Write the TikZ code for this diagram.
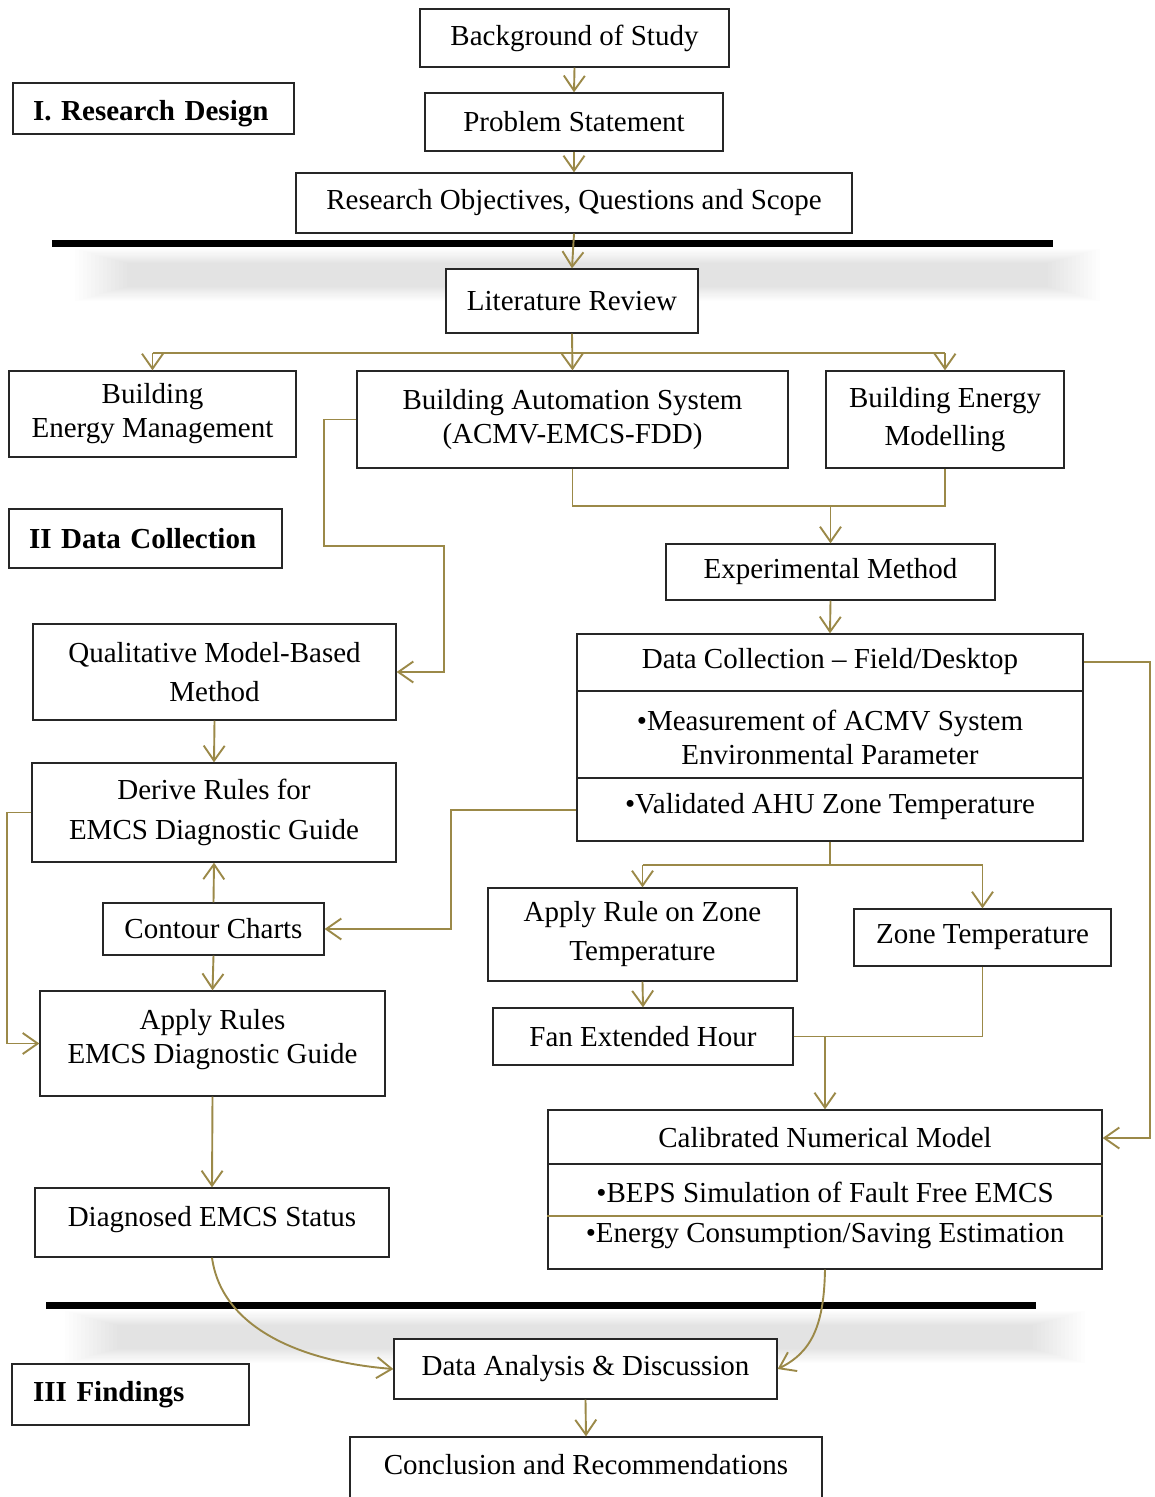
\documentclass[tikz,border=0pt]{standalone}
\usepackage{fontspec}
\setmainfont{Liberation Serif}
\usetikzlibrary{arrows.meta}
\definecolor{olv}{RGB}{155,137,72}
\tikzset{
  every node/.style={font=\fontsize{29}{34}\selectfont},
  box/.style={draw=black!85, line width=1.3pt, fill=white, inner sep=0pt, align=center},
  head/.style={box, font=\fontsize{29}{34}\selectfont\bfseries, align=left, inner xsep=20pt},
  txt/.style={inner sep=0pt, align=center},
  con/.style={draw=olv, line width=1.9pt},
  arr/.style={con, -{Straight Barb[length=15pt,width=21pt,line width=1.9pt]}},
  divb/.style={draw=black!85, line width=1.3pt},
  divo/.style={draw=olv, line width=1.9pt},
  bandstep/.style={fill=black, fill opacity=0.0075, draw=none}
}
\begin{document}
\begin{tikzpicture}[x=1pt,y=-1pt]
\useasboundingbox (0,0) rectangle (1155,1497);
% shadow bands (blurred)
\foreach \i in {0,...,13}{
  \fill[bandstep] (75+\i*4,249+\i*1.1) rectangle (1100-\i*4,301-\i*1.1);
  \fill[bandstep] (65+\i*4,1311+\i*1.1) rectangle (1085-\i*4,1363-\i*1.1);
}
% thick bars
\fill[black] (52,240) rectangle (1053,247);
\fill[black] (46,1302) rectangle (1036,1309);
% helper coordinates
\coordinate (hb) at (0,353);
\coordinate (h2) at (0,506);
\coordinate (h3) at (0,865);
\coordinate (y691) at (0,691);
\coordinate (y778) at (0,778);
\coordinate (y810) at (0,810);
\coordinate (y1164) at (0,1164);
\coordinate (y1216) at (0,1216);
\coordinate (p1) at (324,546);
\coordinate (p2) at (444,546);
\coordinate (p3) at (451,810);
\coordinate (p4) at (1150,662);
% heading boxes
\node[head, minimum width=281pt, minimum height=51pt, text width=241pt, text height=30pt, text depth=6pt] (rd) at (153.5,108.5) {I. Research Design};
\node[head, minimum width=273pt, minimum height=59pt, text width=233pt, inner xsep=18pt] (dcol) at (145.5,538.5) {II Data Collection};
\node[head, minimum width=237pt, minimum height=61pt, text width=195pt, inner xsep=21pt] (fd) at (130.5,1394.5) {III Findings};
% main boxes
\node[box, minimum width=309pt, minimum height=58pt] (bg) at (574.5,38) {Background of Study};
\node[box, minimum width=298pt, minimum height=58pt] (ps) at (574,122) {Problem Statement};
\node[box, minimum width=556pt, minimum height=60pt] (ro) at (574,203) {Research Objectives, Questions and Scope};
\node[box, minimum width=252pt, minimum height=64pt] (lr) at (572,301) {Literature Review};
\node[box, minimum width=287pt, minimum height=86pt] (bem) at (152.5,414) {Building\\Energy Management};
\node[box, minimum width=431pt, minimum height=97pt] (bas) at (572.5,419.5) {Building Automation System\\(ACMV-EMCS-FDD)};
\node[box, minimum width=238pt, minimum height=97pt] (bemod) at (945,419.5) {Building Energy\\[4pt]Modelling};
\node[box, minimum width=329pt, minimum height=56pt] (em) at (830.5,572) {Experimental Method};
\node[box, minimum width=506pt, minimum height=207pt] (dc) at (830,737.5) {};
\node[txt] (dct1) at (830,662) {Data Collection -- Field/Desktop};
\node[txt] (dct2) at (830,737) {•Measurement of ACMV System\\Environmental Parameter};
\node[txt] (dct3) at (830,807) {•Validated AHU Zone Temperature};
\node[box, minimum width=363pt, minimum height=96pt] (qm) at (214.5,672) {Qualitative Model-Based\\[5pt]Method};
\node[box, minimum width=364pt, minimum height=99pt] (dr) at (214,812.5) {Derive Rules for\\[6pt]EMCS Diagnostic Guide};
\node[box, minimum width=221pt, minimum height=52pt] (cc) at (213.5,929) {Contour Charts};
\node[box, minimum width=345pt, minimum height=105pt] (ar) at (212.5,1043.5) {Apply Rules\\EMCS Diagnostic Guide\\[-20pt]\mbox{}};
\node[box, minimum width=354pt, minimum height=69pt] (ds) at (212,1222.5) {Diagnosed EMCS Status\\[-22pt]\mbox{}};
\node[box, minimum width=309pt, minimum height=93pt] (arz) at (642.5,934.5) {Apply Rule on Zone\\[5pt]Temperature};
\node[box, minimum width=257pt, minimum height=57pt] (zt) at (982.5,937.5) {Zone Temperature};
\node[box, minimum width=300pt, minimum height=57pt] (feh) at (643,1036.5) {Fan Extended Hour};
\node[box, minimum width=554pt, minimum height=159pt] (cn) at (825,1189.5) {};
\node[txt] (cnt1) at (825,1138) {Calibrated Numerical Model};
\node[txt] (cnt2) at (825,1192) {•BEPS Simulation of Fault Free EMCS};
\node[txt] (cnt3) at (825,1236) {•Energy Consumption/Saving Estimation};
\node[box, minimum width=383pt, minimum height=60pt] (da) at (585.5,1369) {Data Analysis \& Discussion};
\node[box, minimum width=472pt, minimum height=70pt] (cr) at (586,1472) {Conclusion and Recommendations\\[-18pt]\mbox{}};
% dividers
\draw[divb] (dc.west|-y691) -- (dc.east|-y691);
\draw[divb] (dc.west|-y778) -- (dc.east|-y778);
\draw[divb] (cn.west|-y1164) -- (cn.east|-y1164);
\draw[divo] (cn.west|-y1216) -- (cn.east|-y1216);
% connectors
\draw[arr] (bg.south) -- (ps.north);
\draw[arr] (ps.south) -- (ro.north);
\draw[arr] (ro.south) -- (lr.north);
\draw[con] (bem.north|-hb) -- (bemod.north|-hb);
\draw[arr] (lr.south) -- (bas.north);
\draw[arr] (bem.north|-hb) -- (bem.north);
\draw[arr] (bemod.north|-hb) -- (bemod.north);
\draw[con] (bas.south) -- (bas.south|-h2) -- (bemod.south|-h2) -- (bemod.south);
\draw[arr] (em.north|-h2) -- (em.north);
\draw[arr] (em.south) -- (dc.north);
\draw[arr] (bas.west) -| (p1) -- (p2) |- (qm.east);
\draw[arr] (qm.south) -- (dr.north);
\draw[arr] (cc.north) -- (dr.south);
\draw[arr] (cc.south) -- (ar.north);
\draw[arr] (dr.west) -- ++(-24,0) |- (ar.west);
\draw[arr] (dc.west|-y810) -- (p3) |- (cc.east);
\draw[arr] (ar.south) -- (ds.north);
\draw[con] (dc.south) -- (dc.south|-h3);
\draw[con] (arz.north|-h3) -- (zt.north|-h3);
\draw[arr] (arz.north|-h3) -- (arz.north);
\draw[arr] (zt.north|-h3) -- (zt.north);
\draw[arr] (arz.south) -- (feh.north);
\draw[con] (zt.south) |- (cn.north|-feh.east);
\draw[arr] (feh.east) -| (cn.north);
\draw[arr] (dc.east|-dct1) -- (p4) |- (cn.east|-cnt1);
\draw[arr] (ds.south) .. controls (222,1330) and (305,1362) .. (da.west);
\draw[arr] (cn.south) .. controls (824,1325) and (812,1352) .. (da.east);
\draw[arr] (da.south) -- (cr.north);
\end{tikzpicture}
\end{document}
